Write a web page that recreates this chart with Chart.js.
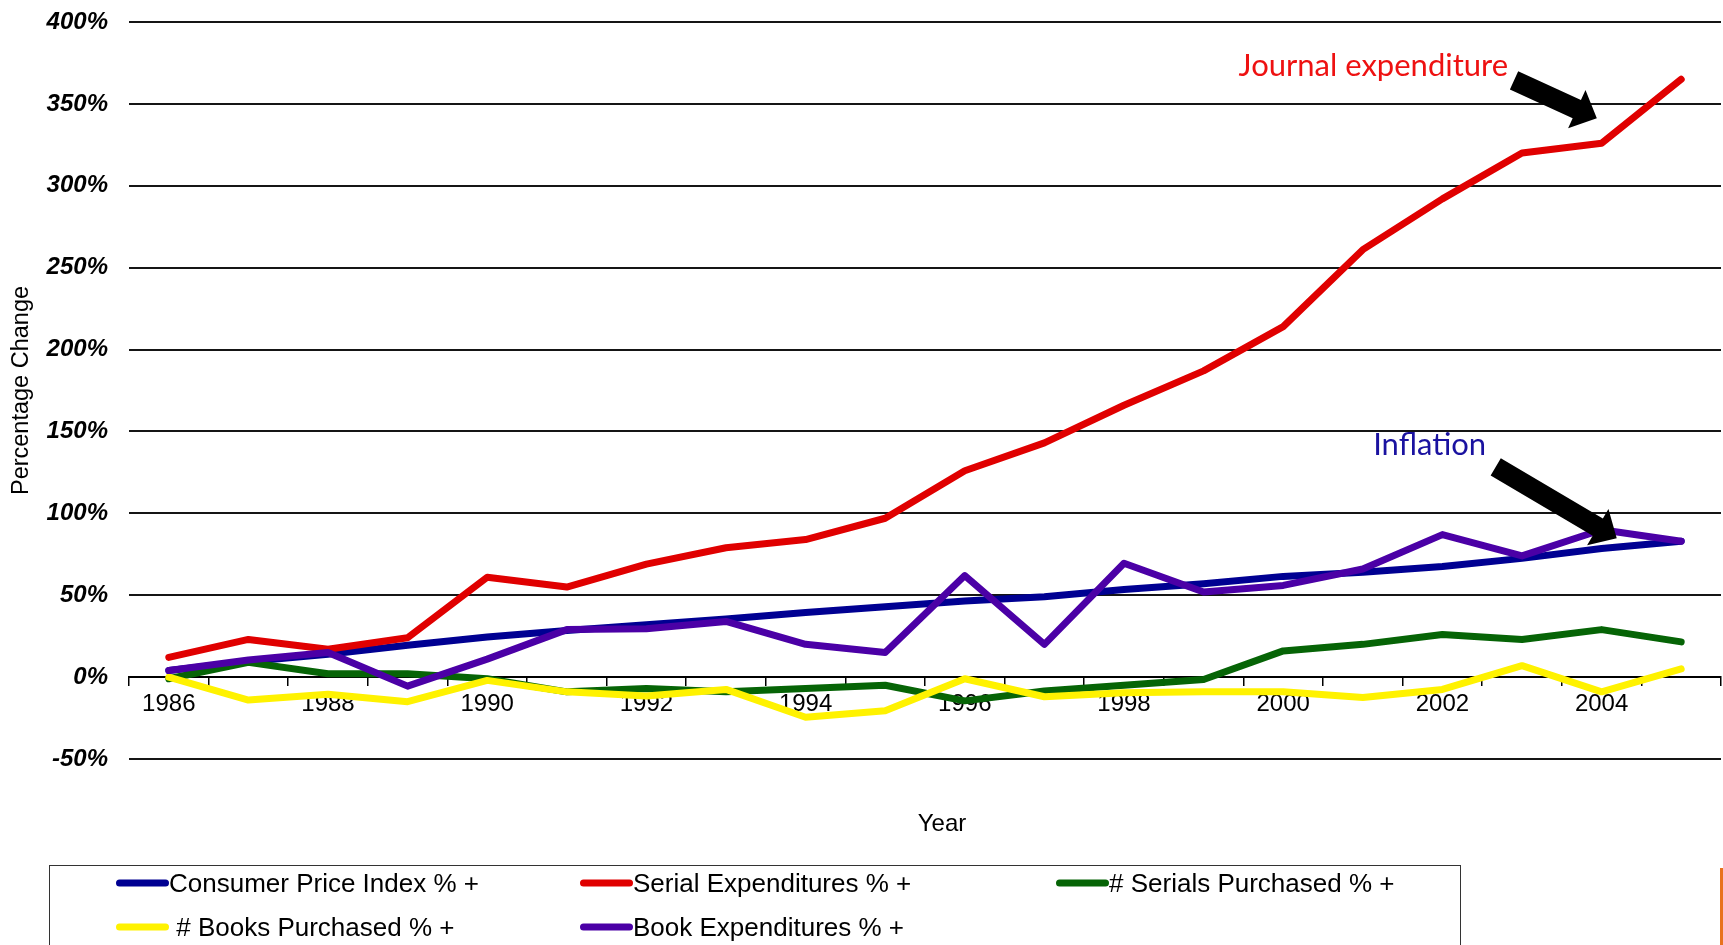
<!DOCTYPE html>
<html>
<head>
<meta charset="utf-8">
<script src="https://cdn.jsdelivr.net/npm/chart.js@4.4.1/dist/chart.umd.min.js"></script>
<style>
html,body{margin:0;padding:0;background:#fff;}
#wrap{position:relative;width:1723px;height:945px;overflow:hidden;background:#fff;}
#c{position:absolute;left:0;top:0;}
#legend{position:absolute;left:49px;top:865px;width:1412px;height:110px;border:1.5px solid #333;box-sizing:border-box;font-family:"Liberation Sans",Arial,sans-serif;font-size:26px;color:#000;}
.item{position:absolute;display:flex;align-items:center;white-space:pre;transform:translateY(-50%);}
.swatch{width:53px;height:7px;border-radius:4px;}
#yearTitle{position:absolute;left:942px;top:823px;transform:translate(-50%,-50%);font-family:"Liberation Sans",Arial,sans-serif;font-size:24px;color:#000;}
#edge{position:absolute;left:1720px;top:868px;width:3px;height:77px;background:#E8731E;}
</style>
</head>
<body>
<div id="wrap">
<canvas id="c" width="1723" height="945"></canvas>
<div id="yearTitle">Year</div>
<div id="legend"></div>
<div id="edge"></div>
</div>
<script>
// ---- data ----
const years = ['1986','1987','1988','1989','1990','1991','1992','1993','1994','1995','1996','1997','1998','1999','2000','2001','2002','2003','2004','2005'];
const cpi              = [4, 9.5, 14, 19.5, 24.5, 28.5, 32, 35.5, 39.5, 43, 46.5, 49, 53.5, 57, 61.5, 64, 67.5, 72.5, 78.5, 83];
const serialExp        = [12, 23, 17, 24, 61, 55, 69, 79, 84, 97, 126, 143, 166, 187, 214, 261, 292, 320, 326, 365];
const serialsPurchased = [-1, 9, 2, 2, -1, -9, -7, -9, -7, -5, -14.5, -8.5, -5, -1.5, 16, 20, 26, 23, 29, 21.5];
const booksPurchased   = [0, -14, -10.5, -15, -2, -9, -11.5, -7.5, -24.5, -20.5, -1, -12, -9.5, -9, -9, -12.5, -7.5, 7, -9, 5];
const bookExp          = [4, 10.5, 15, -5.5, 11, 29, 29.5, 34, 20, 15, 62, 20, 69.5, 52, 56, 66, 87, 74, 90, 83];
const seriesLabels = ['Consumer Price Index % +', 'Serial Expenditures % +', '# Serials Purchased % +', ' # Books Purchased % +', 'Book Expenditures % +'];
const seriesColors = ['#000092', '#E00000', '#066406', '#FFF200', '#4B00A6'];
const yMin = -50, yMax = 400, yStep = 50;

// annotations (in data coordinates: x = category index, y = percent)
const noteTexts = ['Journal expenditure', 'Inflation'];
const noteColors = ['#EE1111', '#1A12A0'];
const noteX = [13.44, 15.13];
const noteY = [373, 141.5];
const arrowTail = [[16.90, 364.3], [16.67, 128.4]];
const arrowTip  = [[17.94, 341.3], [18.19, 84.8]];

const seriesData = [cpi, serialExp, serialsPurchased, booksPurchased, bookExp];
const drawOrder = [4, 1, 3, 2, 0];

const FONT = '"Liberation Sans", Arial, sans-serif';

const annotationPlugin = {
  id: 'notes',
  afterDatasetsDraw(chart) {
    const ctx = chart.ctx, xs = chart.scales.x, ys = chart.scales.y;
    ctx.save();
    for (let k = 0; k < arrowTail.length; k++) {
      const tx = xs.getPixelForValue(arrowTail[k][0]), ty = ys.getPixelForValue(arrowTail[k][1]);
      const px = xs.getPixelForValue(arrowTip[k][0]), py = ys.getPixelForValue(arrowTip[k][1]);
      const dx = px - tx, dy = py - ty, L = Math.hypot(dx, dy);
      const ux = dx / L, uy = dy / L, nx = -uy, ny = ux;
      const sw = 20, hw = 42, hl = 22;
      const bx = px - ux * hl, by = py - uy * hl;
      ctx.beginPath();
      ctx.moveTo(tx + nx * sw / 2, ty + ny * sw / 2);
      ctx.lineTo(bx + nx * sw / 2, by + ny * sw / 2);
      ctx.lineTo(bx + nx * hw / 2, by + ny * hw / 2);
      ctx.lineTo(px, py);
      ctx.lineTo(bx - nx * hw / 2, by - ny * hw / 2);
      ctx.lineTo(bx - nx * sw / 2, by - ny * sw / 2);
      ctx.lineTo(tx - nx * sw / 2, ty - ny * sw / 2);
      ctx.closePath();
      ctx.fillStyle = '#000';
      ctx.fill();
    }
    ctx.font = '31px Lato, "Open Sans", sans-serif';
    ctx.textAlign = 'left';
    ctx.textBaseline = 'middle';
    for (let k = 0; k < noteTexts.length; k++) {
      ctx.fillStyle = noteColors[k];
      ctx.fillText(noteTexts[k], xs.getPixelForValue(noteX[k]), ys.getPixelForValue(noteY[k]));
    }
    ctx.restore();
  }
};

const datasets = seriesData.map((d, i) => ({
  label: seriesLabels[i],
  data: d,
  borderColor: seriesColors[i],
  backgroundColor: seriesColors[i],
  borderWidth: 7,
  pointRadius: 0,
  tension: 0,
  fill: false,
  borderCapStyle: 'round',
  borderJoinStyle: 'round',
  order: drawOrder[i]
}));

const chart = new Chart(document.getElementById('c'), {
  type: 'line',
  data: { labels: years, datasets },
  options: {
    responsive: false,
    animation: false,
    layout: { padding: { left: 0, right: 2, top: 22, bottom: 186 } },
    plugins: { legend: { display: false }, tooltip: { enabled: false }, title: { display: false } },
    scales: {
      x: {
        type: 'category',
        position: { y: 0 },
        offset: true,
        afterFit(s) { s.height = 0; },
        grid: { display: true, drawOnChartArea: false, drawTicks: true, tickLength: 8, offset: true, color: '#000', lineWidth: 1.5 },
        border: { display: true, color: '#000', width: 2 },
        ticks: {
          color: '#000', autoSkip: false, maxRotation: 0, padding: 5,
          font: { family: FONT, size: 24 },
          callback: (v, i) => (i % 2 === 0 ? years[i] : '')
        }
      },
      y: {
        min: yMin, max: yMax,
        afterFit(s) { s.width = 129; s.paddingTop = 0; s.paddingBottom = 0; },
        grid: { color: '#151515', lineWidth: 2, drawTicks: false },
        border: { display: false },
        ticks: {
          stepSize: yStep, color: '#000', padding: 21,
          font: { family: FONT, size: 24, style: 'italic', weight: 'bold' },
          callback: v => v + '%'
        },
        title: { display: true, text: 'Percentage Change', color: '#000', font: { family: FONT, size: 23.5 }, padding: { top: 7, bottom: 0 } }
      }
    }
  },
  plugins: [annotationPlugin]
});

// HTML legend built from the datasets
const legend = document.getElementById('legend');
const colX = [66, 530, 1006], rowY = [17, 61];
datasets.forEach((ds, i) => {
  const it = document.createElement('div');
  it.className = 'item';
  it.style.left = colX[i % 3] + 'px';
  it.style.top = rowY[Math.floor(i / 3)] + 'px';
  const sw = document.createElement('span');
  sw.className = 'swatch';
  sw.style.background = ds.borderColor;
  const tx = document.createElement('span');
  tx.textContent = ds.label;
  it.appendChild(sw); it.appendChild(tx);
  legend.appendChild(it);
});
</script>
</body>
</html>
